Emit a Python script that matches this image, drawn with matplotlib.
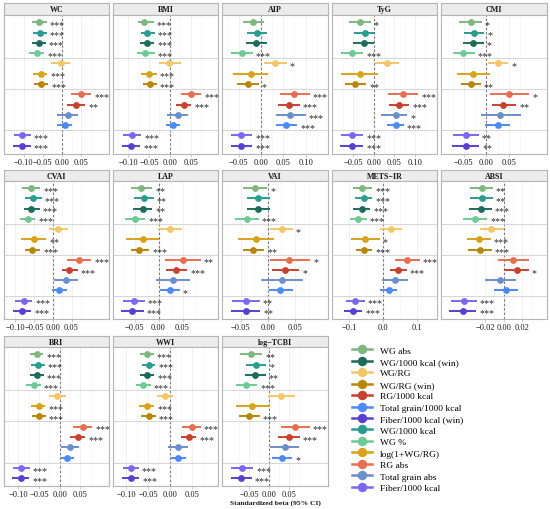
import matplotlib
matplotlib.use("Agg")
import matplotlib.pyplot as plt
from matplotlib.lines import Line2D

plt.rcParams['font.family'] = ['Liberation Serif', 'DejaVu Serif']

# exposures, top to bottom inside every panel
exposures = ["WG abs", "WG/1000 kcal", "WG/1000 kcal (win)", "WG %",
             "WG/RG", "log(1+WG/RG)", "WG/RG (win)",
             "RG abs", "RG/1000 kcal", "Total grain abs", "Total grain/1000 kcal",
             "Fiber/1000 kcal", "Fiber/1000 kcal (win)"]
legend_order = ["WG abs", "WG/1000 kcal (win)", "WG/RG", "WG/RG (win)", "RG/1000 kcal",
                "Total grain/1000 kcal", "Fiber/1000 kcal (win)", "WG/1000 kcal", "WG %",
                "log(1+WG/RG)", "RG abs", "Total grain abs", "Fiber/1000 kcal"]
outcomes = ["WC", "BMI", "AIP", "TyG", "CMI", "CVAI", "LAP", "VAI",
            "METS\u2212IR", "ABSI", "BRI", "WWI", "log\u2212TCBI"]

wc_beta = [-0.059, -0.058, -0.061, -0.066, -0.004, -0.056, -0.055, 0.049, 0.037, 0.015, 0.008, -0.103, -0.105]
wc_lo = [-0.078, -0.075, -0.079, -0.085, -0.029, -0.075, -0.073, 0.022, 0.014, -0.012, -0.012, -0.125, -0.128]
wc_hi = [-0.040, -0.040, -0.043, -0.047, 0.020, -0.038, -0.036, 0.076, 0.060, 0.042, 0.027, -0.081, -0.082]
wc_sig = ["***", "***", "***", "***", "", "***", "***", "***", "**", "", "", "***", "***"]

bmi_beta = [-0.062, -0.054, -0.056, -0.059, -0.001, -0.051, -0.049, 0.051, 0.033, 0.019, 0.007, -0.092, -0.094]
bmi_lo = [-0.077, -0.069, -0.073, -0.079, -0.026, -0.069, -0.065, 0.027, 0.015, -0.006, -0.010, -0.113, -0.116]
bmi_hi = [-0.039, -0.036, -0.038, -0.036, 0.028, -0.032, -0.032, 0.075, 0.052, 0.043, 0.024, -0.069, -0.071]
bmi_sig = ["***", "***", "***", "***", "", "***", "***", "***", "***", "", "", "***", "***"]

aip_beta = [-0.018, -0.009, -0.010, -0.042, 0.032, -0.023, -0.029, 0.075, 0.063, 0.066, 0.057, -0.044, -0.044]
aip_lo = [-0.040, -0.031, -0.034, -0.066, 0.006, -0.063, -0.054, 0.042, 0.038, 0.033, 0.034, -0.066, -0.066]
aip_hi = [0.006, 0.013, 0.013, -0.018, 0.058, 0.016, -0.005, 0.109, 0.087, 0.100, 0.081, -0.020, -0.020]
aip_sig = ["", "", "", "***", "*", "", "*", "***", "***", "***", "***", "***", "***"]

tyg_beta = [-0.034, -0.022, -0.024, -0.053, 0.032, -0.034, -0.045, 0.072, 0.062, 0.053, 0.053, -0.054, -0.054]
tyg_lo = [-0.061, -0.048, -0.050, -0.081, 0.002, -0.079, -0.070, 0.035, 0.037, 0.017, 0.031, -0.081, -0.083]
tyg_hi = [-0.008, 0.002, 0.000, -0.026, 0.061, 0.011, -0.018, 0.108, 0.086, 0.081, 0.073, -0.026, -0.026]
tyg_sig = ["*", "", "", "***", "", "", "**", "***", "***", "*", "***", "***", "***"]

cmi_beta = [-0.035, -0.027, -0.029, -0.051, 0.027, -0.029, -0.035, 0.050, 0.038, 0.031, 0.026, -0.046, -0.046]
cmi_lo = [-0.061, -0.050, -0.052, -0.074, 0.004, -0.066, -0.057, 0.007, 0.013, -0.013, -0.002, -0.075, -0.077]
cmi_hi = [-0.010, -0.005, -0.006, -0.026, 0.049, 0.007, -0.013, 0.096, 0.066, 0.076, 0.053, -0.017, -0.016]
cmi_sig = ["*", "*", "*", "***", "*", "", "**", "*", "**", "", "", "**", "**"]

cvai_beta = [-0.058, -0.053, -0.057, -0.067, 0.015, -0.051, -0.054, 0.070, 0.044, 0.035, 0.018, -0.077, -0.082]
cvai_lo = [-0.082, -0.075, -0.077, -0.086, -0.011, -0.084, -0.075, 0.039, 0.024, 0.004, -0.003, -0.101, -0.107]
cvai_hi = [-0.033, -0.029, -0.035, -0.046, 0.041, -0.018, -0.033, 0.103, 0.066, 0.068, 0.039, -0.054, -0.058]
cvai_sig = ["***", "***", "***", "***", "", "**", "***", "***", "***", "", "", "***", "***"]

lap_beta = [-0.036, -0.031, -0.033, -0.050, 0.024, -0.033, -0.040, 0.051, 0.037, 0.030, 0.023, -0.052, -0.055]
lap_lo = [-0.058, -0.051, -0.053, -0.071, -0.001, -0.067, -0.058, 0.014, 0.016, -0.005, 0.002, -0.074, -0.078]
lap_hi = [-0.013, -0.010, -0.013, -0.028, 0.049, 0.001, -0.019, 0.088, 0.060, 0.066, 0.044, -0.029, -0.031]
lap_sig = ["**", "**", "**", "***", "", "", "***", "**", "***", "", "*", "***", "***"]

vai_beta = [-0.024, -0.018, -0.018, -0.039, 0.026, -0.022, -0.027, 0.039, 0.032, 0.026, 0.023, -0.041, -0.041]
vai_lo = [-0.046, -0.038, -0.039, -0.061, 0.004, -0.055, -0.047, 0.004, 0.007, -0.012, 0.002, -0.066, -0.069]
vai_hi = [-0.001, 0.004, 0.004, -0.017, 0.046, 0.011, -0.007, 0.078, 0.058, 0.064, 0.047, -0.015, -0.014]
vai_sig = ["*", "", "", "***", "*", "", "**", "*", "*", "", "", "**", "**"]

mets_beta = [-0.061, -0.057, -0.062, -0.073, 0.025, -0.052, -0.057, 0.072, 0.045, 0.036, 0.017, -0.082, -0.087]
mets_lo = [-0.089, -0.082, -0.087, -0.098, -0.007, -0.093, -0.079, 0.036, 0.022, -0.002, -0.007, -0.110, -0.115]
mets_hi = [-0.032, -0.032, -0.037, -0.047, 0.057, -0.009, -0.032, 0.109, 0.071, 0.074, 0.043, -0.054, -0.060]
mets_sig = ["***", "***", "***", "***", "", "*", "***", "***", "***", "", "", "***", "***"]

absi_beta = [-0.024, -0.024, -0.025, -0.031, -0.014, -0.027, -0.026, 0.010, 0.014, -0.004, 0.002, -0.043, -0.044]
absi_lo = [-0.037, -0.037, -0.038, -0.044, -0.026, -0.040, -0.039, -0.006, 0.000, -0.020, -0.010, -0.057, -0.059]
absi_hi = [-0.012, -0.012, -0.013, -0.018, 0.000, -0.014, -0.013, 0.027, 0.027, 0.013, 0.015, -0.029, -0.030]
absi_sig = ["**", "**", "***", "***", "", "***", "***", "", "*", "", "", "***", "***"]

bri_beta = [-0.055, -0.052, -0.055, -0.063, -0.006, -0.051, -0.050, 0.055, 0.043, 0.024, 0.018, -0.093, -0.095]
bri_lo = [-0.071, -0.069, -0.073, -0.081, -0.026, -0.069, -0.067, 0.032, 0.024, 0.002, 0.002, -0.113, -0.115]
bri_hi = [-0.040, -0.036, -0.039, -0.046, 0.016, -0.035, -0.034, 0.078, 0.062, 0.047, 0.034, -0.073, -0.074]
bri_sig = ["***", "***", "***", "***", "", "***", "***", "***", "***", "", "", "***", "***"]

wwi_beta = [-0.053, -0.049, -0.052, -0.062, -0.013, -0.053, -0.049, 0.048, 0.042, 0.017, 0.017, -0.090, -0.090]
wwi_lo = [-0.068, -0.064, -0.068, -0.079, -0.030, -0.070, -0.066, 0.027, 0.025, -0.005, 0.001, -0.108, -0.110]
wwi_hi = [-0.038, -0.034, -0.037, -0.045, 0.005, -0.037, -0.033, 0.069, 0.059, 0.040, 0.035, -0.072, -0.071]
wwi_sig = ["***", "***", "***", "***", "", "***", "***", "***", "***", "", "", "***", "***"]

tcbi_beta = [-0.044, -0.033, -0.036, -0.057, 0.029, -0.042, -0.050, 0.064, 0.050, 0.039, 0.033, -0.068, -0.069]
tcbi_lo = [-0.072, -0.058, -0.061, -0.083, -0.003, -0.083, -0.075, 0.029, 0.023, 0.003, 0.008, -0.094, -0.096]
tcbi_hi = [-0.017, -0.007, -0.008, -0.030, 0.064, 0.002, -0.023, 0.102, 0.077, 0.075, 0.058, -0.040, -0.043]
tcbi_sig = ["**", "*", "**", "***", "", "", "***", "***", "***", "", "*", "***", "***"]

panels = [(wc_beta, wc_lo, wc_hi, wc_sig), (bmi_beta, bmi_lo, bmi_hi, bmi_sig),
          (aip_beta, aip_lo, aip_hi, aip_sig), (tyg_beta, tyg_lo, tyg_hi, tyg_sig),
          (cmi_beta, cmi_lo, cmi_hi, cmi_sig), (cvai_beta, cvai_lo, cvai_hi, cvai_sig),
          (lap_beta, lap_lo, lap_hi, lap_sig), (vai_beta, vai_lo, vai_hi, vai_sig),
          (mets_beta, mets_lo, mets_hi, mets_sig), (absi_beta, absi_lo, absi_hi, absi_sig),
          (bri_beta, bri_lo, bri_hi, bri_sig), (wwi_beta, wwi_lo, wwi_hi, wwi_sig),
          (tcbi_beta, tcbi_lo, tcbi_hi, tcbi_sig)]

colors = {
    "WG abs": "#7fb77e", "WG/1000 kcal": "#2a9d8f", "WG/1000 kcal (win)": "#1d6b5c",
    "WG %": "#6fc997", "WG/RG": "#f2c76a", "log(1+WG/RG)": "#d9a21b",
    "WG/RG (win)": "#b8860b", "RG abs": "#e76f51", "RG/1000 kcal": "#c8412e",
    "Total grain abs": "#6b8fca", "Total grain/1000 kcal": "#4c8bf5",
    "Fiber/1000 kcal": "#7b68ee", "Fiber/1000 kcal (win)": "#5a3fd0",
}

# axis styling per panel: x limits and ticks
xlims = [(-0.151, 0.122), (-0.137, 0.116), (-0.087, 0.150), (-0.102, 0.154), (-0.101, 0.135),
         (-0.130, 0.150), (-0.095, 0.124), (-0.085, 0.111), (-0.139, 0.160), (-0.068, 0.047),
         (-0.135, 0.119), (-0.130, 0.108), (-0.1175, 0.1475)]
t4 = [-0.10, -0.05, 0.0, 0.05]
t3 = [-0.05, 0.0, 0.05]
xticks = [t4, t4, [-0.05, 0.0, 0.05, 0.10], [-0.05, 0.0, 0.05, 0.10], t3,
          t4, t3, t3, [-0.1, 0.0, 0.1], [-0.02, 0.0, 0.02], t4, t4, t3]
tick_dec = [2, 2, 2, 2, 2, 2, 2, 2, 1, 2, 2, 2, 2]

W, H = 550, 510
fig = plt.figure(figsize=(5.5, 5.1), dpi=100)
fig.patch.set_facecolor("white")

col_x = [(4, 109), (113, 218), (222, 328), (332, 437), (441, 547)]
row_y = [(4, 15.5, 154.5), (170.5, 181.5, 319.5), (336.5, 347.5, 487)]


def px_axes(x0, x1, y0, y1):
    return fig.add_axes([x0 / W, 1 - y1 / H, (x1 - x0) / W, (y1 - y0) / H])


def fmt(v, d):
    s = f"{abs(v):.{d}f}"
    return ("\u2212" + s) if v < 0 else s


border = "#b5b5b5"
for k, name in enumerate(outcomes):
    r, c = divmod(k, 5)
    x0, x1 = col_x[c]
    ys, yp, yb = row_y[r]
    beta, lo, hi, sig = panels[k]

    # strip
    sax = px_axes(x0, x1, ys, yp)
    sax.set_facecolor("#ececec")
    sax.set_xticks([]); sax.set_yticks([])
    for sp in sax.spines.values():
        sp.set_color(border); sp.set_linewidth(0.8)
    sax.text(0.5, 0.45, name, ha="center", va="center", fontsize=5.8,
             fontweight="bold", color="#1a1a1a", transform=sax.transAxes)

    ax = px_axes(x0, x1, yp, yb)
    ax.set_xlim(*xlims[k])
    ax.set_ylim(13.75, 0.25)
    ax.set_xticks(xticks[k])
    ax.set_xticklabels([fmt(t, tick_dec[k]) for t in xticks[k]])
    tk = xticks[k]
    step = tk[1] - tk[0]
    ax.set_xticks([t + step / 2 for t in [tk[0] - step] + tk], minor=True)
    ax.xaxis.grid(True, which="major", color="#ebebeb", lw=0.5, zorder=0)
    ax.xaxis.grid(True, which="minor", color="#f4f4f4", lw=0.4, zorder=0)
    ax.set_yticks([])
    ax.tick_params(axis="x", which="major", length=2, width=0.5, color=border,
                   labelsize=6, pad=1, labelcolor="#1a1a1a")
    ax.tick_params(axis="x", which="minor", length=0)
    for sp in ax.spines.values():
        sp.set_color(border); sp.set_linewidth(0.8)
    ax.set_axisbelow(True)

    ax.axvline(0, color="#7a7a7a", lw=0.8, ls=(0, (2.2, 1.8)), zorder=1)
    for s in [4.5, 7.5, 11.5]:
        ax.axhline(s, color="#d0d0d0", lw=0.6, zorder=1)

    for i, ex in enumerate(exposures):
        y = i + 1
        col = colors[ex]
        ax.plot([lo[i], hi[i]], [y, y], color=col, lw=1.4, solid_capstyle="butt", zorder=3)
        ax.plot(beta[i], y, "o", ms=3.9, color=col, mec=col, zorder=4)
        if sig[i]:
            ax.annotate(sig[i], (hi[i], y), xytext=(2.2, -3.4), textcoords="offset points",
                        ha="left", va="baseline", fontsize=7.2, color="#2b2b2b",
                        annotation_clip=False, zorder=5)

fig.text(0.5, 1 - 503 / H, "Standardized beta (95% CI)", ha="center", va="center",
         fontsize=5.4, fontweight="bold", color="#1a1a1a")

handles = [Line2D([0], [0], color=colors[n], lw=1.8, marker="o", ms=5.8) for n in legend_order]
fig.legend(handles, legend_order, loc="upper left", bbox_to_anchor=(352 / W, 1 - 347 / H),
           frameon=False, fontsize=6.8, handlelength=2.1, handletextpad=0.9,
           labelspacing=0.3, borderpad=0, borderaxespad=0)

fig.savefig("out.png", dpi=100, facecolor="white")
